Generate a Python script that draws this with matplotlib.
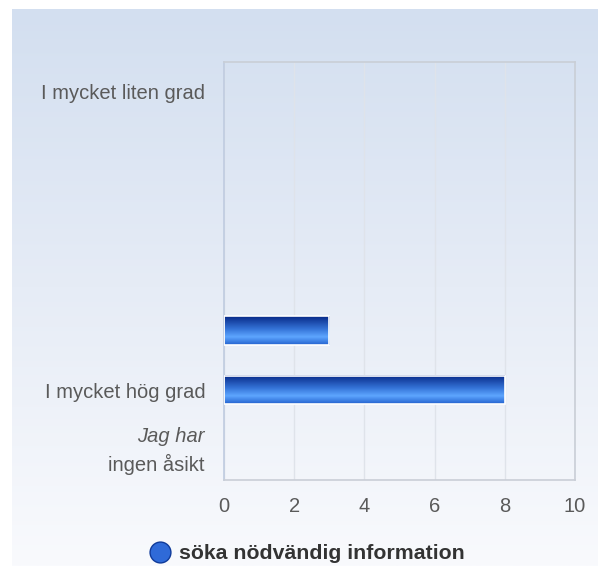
import numpy as np
import matplotlib.pyplot as plt
from matplotlib.colors import LinearSegmentedColormap
from matplotlib.lines import Line2D

categories = ["I mycket liten grad", "", "", "", "", "I mycket hög grad", "Jag har ingen åsikt"]
values = [0, 0, 0, 0, 3, 8, 0]
series_name = "söka nödvändig information"
x_ticks = [0, 2, 4, 6, 8, 10]

plt.rcParams['font.family'] = ['Liberation Sans', 'DejaVu Sans']

fig = plt.figure(figsize=(5.98, 5.66), dpi=100, facecolor='white')

# background panel with vertical gradient
bg = fig.add_axes([12 / 598, 0, 1 - 12 / 598, 557 / 566], zorder=-5)
bg_cmap = LinearSegmentedColormap.from_list("bg", ["#d3dff0", "#e6ecf6", "#f9fafd"])
bg.imshow(np.linspace(0, 1, 256).reshape(-1, 1), cmap=bg_cmap, aspect='auto',
          extent=[0, 1, 0, 1], origin='upper')
bg.axis('off')

ax = fig.add_axes([224 / 598, 86 / 566, 351 / 598, 418.5 / 566])
ax.set_facecolor('none')

pos = np.arange(len(categories))
edges = ['white' if v > 0 else 'none' for v in values]
bars = ax.barh(pos, values, height=0.47, color='none', edgecolor=edges, linewidth=1.2, zorder=3)

bar_cmap = LinearSegmentedColormap.from_list(
    "bar", [(0, "#082a88"), (0.45, "#3574d8"), (0.72, "#5ea6ff"), (1, "#2463cf")])
grad = np.linspace(0, 1, 64).reshape(-1, 1)
for b in bars:
    if b.get_width() <= 0:
        continue
    x, y, w, h = b.get_x(), b.get_y(), b.get_width(), b.get_height()
    ax.imshow(grad, cmap=bar_cmap, aspect='auto', origin='upper',
              extent=[x, x + w, y + h, y], zorder=2.5)

ax.set_xlim(0, 10)
ax.set_ylim(len(categories) - 0.5, -0.5)
ax.set_xticks(x_ticks)
ax.set_yticks(pos)

fs = 14.5
ylabels = [c if c != "Jag har ingen åsikt" else "" for c in categories]
ax.set_yticklabels(ylabels)
ax.tick_params(axis='y', length=0, pad=13.5, labelsize=fs, labelcolor='#5a5a5a')
ax.tick_params(axis='x', length=0, pad=12, labelsize=fs, labelcolor='#5a5a5a')

# two-line label with italic first line
i = categories.index("Jag har ingen åsikt")
trans = ax.get_yaxis_transform()
ax.text(-19 / 351, i - 0.22, "Jag har", transform=trans, ha='right', va='center',
        fontsize=fs, color='#5a5a5a', style='italic')
ax.text(-19 / 351, i + 0.24, "ingen åsikt", transform=trans, ha='right', va='center',
        fontsize=fs, color='#5a5a5a')

ax.grid(axis='x', color='#dfe3ea', linewidth=1, zorder=0)
ax.set_axisbelow(True)
for side, sp in ax.spines.items():
    sp.set_color('#c9ced6')
    sp.set_linewidth(1.2)
ax.spines['left'].set_color('#bfcbe0')

handle = Line2D([], [], linestyle='none', marker='o', markersize=15,
                markerfacecolor='#2f6ad8', markeredgecolor='#0f3a9a')
fig.legend([handle], [series_name], loc='center', bbox_to_anchor=(0.505, 0.0215),
           frameon=False, handletextpad=-0.1,
           prop={'weight': 'bold', 'size': 15.3})
for t in fig.legends[0].get_texts():
    t.set_color('#333333')

fig.savefig("out.png", dpi=100, facecolor='white')
